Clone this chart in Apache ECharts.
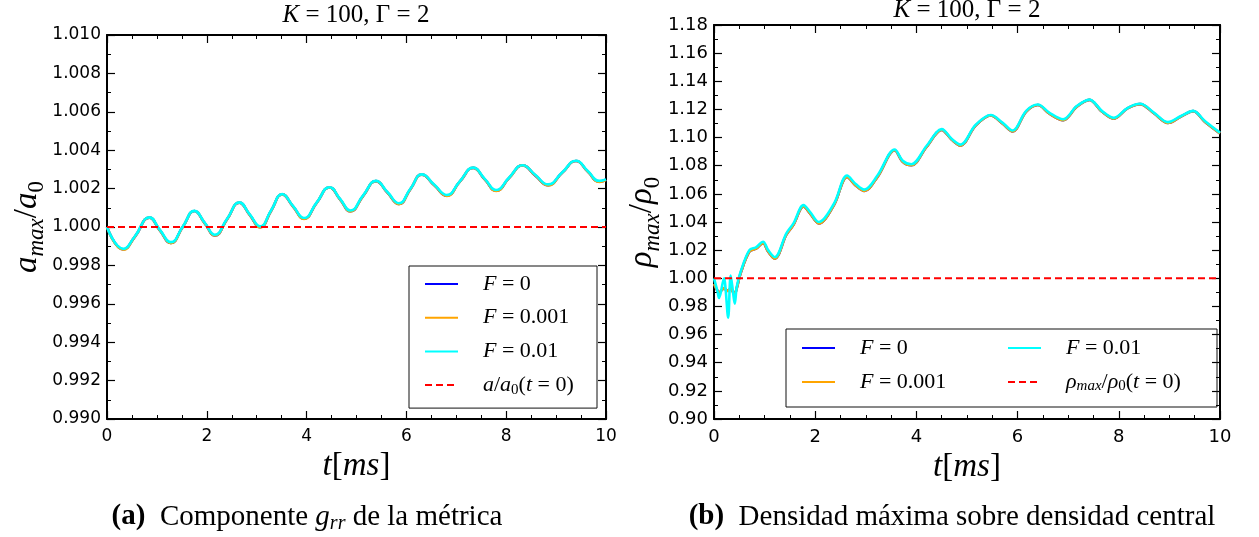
<!DOCTYPE html>
<html>
<head>
<meta charset="utf-8">
<script src="https://cdn.jsdelivr.net/npm/echarts@6/dist/echarts.min.js"></script>
<style>
html,body{margin:0;padding:0;background:#fff;}
#chart{width:1259px;height:537px;}
</style>
</head>
<body>
<div id="chart"></div>
<script>
// ---- time samples and metric ratio a_max/a_0 (left panel) ----
const tMetric = [0, 0.33, 0.56, 0.85, 1.06, 1.28, 1.52, 1.75, 1.96, 2.16, 2.41, 2.65, 2.86, 3.07, 3.29, 3.51,
  3.73, 3.95, 4.20, 4.46, 4.67, 4.88, 5.13, 5.39, 5.62, 5.85, 6.08, 6.31, 6.56, 6.81, 7.07, 7.34,
  7.57, 7.80, 8.06, 8.33, 8.58, 8.84, 9.12, 9.40, 9.63, 9.87, 10];
const metricF0 = [1.0000, 0.99883, 0.99950, 1.00049, 0.99982, 0.99917, 1.00001, 1.00083, 1.00019, 0.99956, 1.00042, 1.00127, 1.00063, 0.99999, 1.00085, 1.00170,
  1.00106, 1.00043, 1.00125, 1.00206, 1.00144, 1.00082, 1.00161, 1.00239, 1.00179, 1.00120, 1.00197, 1.00273, 1.00217, 1.00163, 1.00236, 1.00308,
  1.00248, 1.00189, 1.00256, 1.00321, 1.00269, 1.00218, 1.00282, 1.00344, 1.00290, 1.00236, 1.00246];
const metricF0001 = [1.0000, 0.99882, 0.99950, 1.00049, 0.99982, 0.99916, 1.00001, 1.00083, 1.00019, 0.99956, 1.00042, 1.00127, 1.00063, 0.99998, 1.00085, 1.00170,
  1.00106, 1.00042, 1.00125, 1.00206, 1.00144, 1.00081, 1.00161, 1.00239, 1.00179, 1.00119, 1.00197, 1.00273, 1.00217, 1.00162, 1.00236, 1.00308,
  1.00248, 1.00188, 1.00256, 1.00321, 1.00269, 1.00217, 1.00282, 1.00344, 1.00290, 1.00235, 1.00246];
const metricF001 = [1.0000, 0.99886, 0.99952, 1.00050, 0.99985, 0.99921, 1.00003, 1.00084, 1.00022, 0.99960, 1.00044, 1.00128, 1.00066, 1.00003, 1.00087, 1.00171,
  1.00109, 1.00047, 1.00127, 1.00207, 1.00147, 1.00086, 1.00163, 1.00240, 1.00182, 1.00124, 1.00199, 1.00274, 1.00220, 1.00167, 1.00238, 1.00309,
  1.00251, 1.00193, 1.00258, 1.00322, 1.00272, 1.00222, 1.00284, 1.00345, 1.00293, 1.00240, 1.00248];

// ---- time samples and central density ratio rho_max/rho_0 (right panel) ----
const tDensity = [0, 0.07, 0.10, 0.20, 0.23, 0.28, 0.33, 0.38, 0.41, 0.45, 0.53, 0.70, 0.83, 0.97, 1.07, 1.20, 1.43, 1.57,
  1.77, 1.90, 2.07, 2.37, 2.63, 2.80, 2.97, 3.23, 3.57, 3.73, 3.90, 4.20, 4.50, 4.70, 4.87, 5.17, 5.47, 5.70,
  5.90, 6.17, 6.40, 6.63, 6.90, 7.17, 7.42, 7.67, 7.90, 8.17, 8.42, 8.70, 8.97, 9.23, 9.47, 9.70, 10.0];
const densityF0 = [0.996, 0.991, 0.990, 0.993, 0.992, 0.991, 0.993, 0.990, 0.989, 0.993, 1.004, 1.019, 1.021, 1.025, 1.019, 1.014, 1.031, 1.038,
  1.051, 1.046, 1.039, 1.052, 1.072, 1.066, 1.062, 1.072, 1.0910, 1.0828, 1.0803, 1.0933, 1.1055, 1.0985, 1.0943, 1.1085, 1.1157, 1.1100,
  1.1043, 1.1185, 1.1232, 1.1170, 1.1124, 1.1220, 1.1268, 1.1183, 1.1135, 1.1207, 1.1238, 1.1171, 1.1104, 1.1150, 1.1188, 1.1113, 1.1030];
const densityF0001 = [0.996, 0.991, 0.990, 0.993, 0.992, 0.991, 0.993, 0.990, 0.989, 0.993, 1.004, 1.019, 1.021, 1.025, 1.019, 1.014, 1.031, 1.038,
  1.051, 1.046, 1.039, 1.052, 1.072, 1.066, 1.062, 1.072, 1.0910, 1.0828, 1.0803, 1.0933, 1.1055, 1.0985, 1.0943, 1.1085, 1.1157, 1.1100,
  1.1043, 1.1185, 1.1232, 1.1170, 1.1124, 1.1220, 1.1268, 1.1183, 1.1135, 1.1207, 1.1238, 1.1171, 1.1104, 1.1150, 1.1188, 1.1113, 1.1030];
const densityF001 = [1.000, 0.9906, 0.986, 1.000, 0.992, 0.972, 1.002, 0.989, 0.982, 0.994, 1.005, 1.020, 1.022, 1.026, 1.020, 1.015, 1.032, 1.039,
  1.052, 1.047, 1.040, 1.053, 1.073, 1.067, 1.063, 1.073, 1.0915, 1.0835, 1.081, 1.094, 1.106, 1.099, 1.095, 1.109, 1.116, 1.1106,
  1.105, 1.119, 1.1235, 1.1176, 1.113, 1.1224, 1.127, 1.1188, 1.114, 1.121, 1.124, 1.1176, 1.111, 1.1153, 1.119, 1.1118, 1.1035];

// ---- initial-value reference lines ----
const tRef = [0, 10];
const metricRef = [1.0, 1.0];
const densityRef = [1.0, 1.0];

// ---- axis ranges and tick steps ----
const timeRange = {min: 0, max: 10, step: 2};
const metricRange = {min: 0.990, max: 1.010, step: 0.002, digits: 3};
const densityRange = {min: 0.90, max: 1.18, step: 0.02, digits: 2};

// ---- texts ----
const panelTitle = '{i|K}{n| = 100, Γ = 2}';
const timeLabel = '{i|t}{n|[}{i|ms}{n|]}';
const metricLabel = '{i|a}{s|max}{n|/}{i|a}{s0|0}';
const densityLabel = '{i|ρ}{s|max}{n|/}{i|ρ}{s0|0}';
const captionA = '{b|(a)}{n|  Componente }{i|g}{s|rr}{n| de la métrica}';
const captionB = '{b|(b)}{n|  Densidad máxima sobre densidad central}';
const seriesNames = ['F = 0', 'F = 0.001', 'F = 0.01'];
const metricRefName = 'a/a0(t=0)';
const densityRefName = 'ρmax/ρ0(t=0)';
const legendText = {
  'F = 0': '{i|F}{n| = 0}',
  'F = 0.001': '{i|F}{n| = 0.001}',
  'F = 0.01': '{i|F}{n| = 0.01}',
  'a/a0(t=0)': '{i|a}{n|/}{i|a}{s0|0}{n|(}{i|t}{n| = 0)}',
  'ρmax/ρ0(t=0)': '{ri|ρ}{rs|max}{rn|/}{ri|ρ}{rs0|0}{rn|(}{ri|t}{rn| = 0)}'
};
const colors = ['#0000ff', '#ffa500', '#00ffff'];
const refColor = '#ff0000';

const SERIF = "'Liberation Serif','DejaVu Serif',serif";
const SANS = "'DejaVu Sans',sans-serif";

// rich-text styles for inline math: italic symbols, upright text, lowered subscripts
function mathRich(size, lineH) {
  const L = lineH || Math.round(size * 1.3);
  const ss = Math.round(size * 0.7);
  return {
    n: {fontFamily: SERIF, fontSize: size, color: '#000', lineHeight: L},
    i: {fontFamily: SERIF, fontSize: size, fontStyle: 'italic', color: '#000', lineHeight: L},
    b: {fontFamily: SERIF, fontSize: size, fontWeight: 'bold', color: '#000', lineHeight: L},
    s: {fontFamily: SERIF, fontSize: ss, fontStyle: 'italic', color: '#000', lineHeight: ss, verticalAlign: 'bottom'},
    s0: {fontFamily: SERIF, fontSize: ss, color: '#000', lineHeight: ss, verticalAlign: 'bottom'}
  };
}
function legendRich(size, small, lineH) {
  const r = mathRich(size, lineH);
  const q = mathRich(small, lineH);
  r.ri = q.i; r.rn = q.n; r.rs = q.s; r.rs0 = q.s0;
  return r;
}

const pairs = (t, v) => t.map((x, k) => [x, v[k]]);

function xAxisPair(grid, fs) {
  const base = {
    type: 'value', gridIndex: grid, min: timeRange.min, max: timeRange.max, interval: timeRange.step,
    splitLine: {show: false},
    axisLine: {show: true, onZero: false, lineStyle: {color: '#000', width: 2}},
    axisTick: {show: true, inside: true, length: 8, lineStyle: {color: '#000', width: 1.2}},
    minorTick: {show: true, splitNumber: 4, length: 4, lineStyle: {color: '#000', width: 1}}
  };
  return [
    Object.assign({}, base, {
      position: 'bottom',
      axisLabel: {show: true, margin: 9, color: '#000', fontFamily: SANS, fontSize: fs},
      name: timeLabel, nameLocation: 'middle', nameGap: 26,
      nameTextStyle: {rich: mathRich(33)}
    }),
    Object.assign({}, base, {position: 'top', axisLabel: {show: false}})
  ];
}
function yAxisPair(grid, range, label, gap, fs) {
  const base = {
    type: 'value', gridIndex: grid, min: range.min, max: range.max, interval: range.step,
    splitLine: {show: false},
    axisLine: {show: true, onZero: false, lineStyle: {color: '#000', width: 2}},
    axisTick: {show: true, inside: true, length: 8, lineStyle: {color: '#000', width: 1.2}},
    minorTick: {show: true, splitNumber: 2, length: 4, lineStyle: {color: '#000', width: 1}}
  };
  return [
    Object.assign({}, base, {
      position: 'left',
      axisLabel: {show: true, margin: 6, color: '#000', fontFamily: SANS, fontSize: fs,
        formatter: v => v.toFixed(range.digits)},
      name: label, nameLocation: 'middle', nameGap: gap, nameRotate: 90,
      nameTextStyle: {rich: mathRich(33)}
    }),
    Object.assign({}, base, {position: 'right', axisLabel: {show: false}})
  ];
}

function curve(name, xi, yi, t, v, color, smooth) {
  return {
    name: name, type: 'line', xAxisIndex: xi, yAxisIndex: yi,
    data: pairs(t, v), symbol: 'none', showSymbol: false, smooth: smooth,
    lineStyle: {color: color, width: 2.6}, itemStyle: {color: color},
    animation: false, silent: true
  };
}
function refLine(name, xi, yi, t, v) {
  return {
    name: name, type: 'line', xAxisIndex: xi, yAxisIndex: yi,
    data: pairs(t, v), symbol: 'none', showSymbol: false,
    lineStyle: {color: refColor, width: 2, type: [7, 4]}, itemStyle: {color: refColor},
    animation: false, silent: true
  };
}

const chart = echarts.init(document.getElementById('chart'), null, {renderer: 'canvas'});

const option = {
  backgroundColor: '#fff',
  animation: false,
  grid: [
    {left: 107, top: 35, width: 499, height: 384},
    {left: 714, top: 25, width: 506, height: 394}
  ],
  xAxis: [].concat(xAxisPair(0, 17), xAxisPair(1, 18)),
  yAxis: [].concat(yAxisPair(0, metricRange, metricLabel, 55, 17), yAxisPair(1, densityRange, densityLabel, 45, 18)),
  legend: [
    {
      orient: 'vertical', left: 409, top: 266,
      data: [seriesNames[0], seriesNames[1], seriesNames[2], metricRefName],
      itemWidth: 33, itemHeight: 4, itemGap: 9.7,
      itemStyle: {opacity: 0},
      padding: [6, 12, 11, 15],
      borderColor: '#111', borderWidth: 1, borderRadius: 0,
      formatter: n => legendText[n],
      textStyle: {padding: [0, 0, 0, 20], width: 102, lineHeight: 24, rich: legendRich(22, 22, 24)},
      selectedMode: false
    },
    {
      orient: 'horizontal', left: 786, top: 329, width: 410,
      data: [seriesNames[0], seriesNames[2], seriesNames[1], densityRefName],
      itemWidth: 33, itemHeight: 4, itemGap: 10,
      itemStyle: {opacity: 0},
      padding: [7, 14, 13, 15],
      borderColor: '#111', borderWidth: 1, borderRadius: 0,
      formatter: n => legendText[n],
      textStyle: {padding: [0, 0, 0, 20], width: 137, lineHeight: 24, rich: legendRich(22, 22, 24)},
      selectedMode: false
    }
  ],
  graphic: [
    {type: 'text', x: 356, y: 15, style: {text: panelTitle, align: 'center', verticalAlign: 'middle', rich: mathRich(25, 28)}},
    {type: 'text', x: 967, y: 10, style: {text: panelTitle, align: 'center', verticalAlign: 'middle', rich: mathRich(25, 28)}},
    {type: 'text', x: 307, y: 517, style: {text: captionA, align: 'center', verticalAlign: 'middle', rich: mathRich(29, 33)}},
    {type: 'text', x: 952, y: 517, style: {text: captionB, align: 'center', verticalAlign: 'middle', rich: mathRich(29, 33)}}
  ],
  series: [
    curve(seriesNames[0], 0, 0, tMetric, metricF0, colors[0], 0.5),
    curve(seriesNames[1], 0, 0, tMetric, metricF0001, colors[1], 0.5),
    curve(seriesNames[2], 0, 0, tMetric, metricF001, colors[2], 0.5),
    refLine(metricRefName, 0, 0, tRef, metricRef),
    curve(seriesNames[0], 2, 2, tDensity, densityF0, colors[0], 0.35),
    curve(seriesNames[1], 2, 2, tDensity, densityF0001, colors[1], 0.35),
    curve(seriesNames[2], 2, 2, tDensity, densityF001, colors[2], 0.35),
    refLine(densityRefName, 2, 2, tRef, densityRef)
  ]
};
chart.setOption(option);
</script>
</body>
</html>
